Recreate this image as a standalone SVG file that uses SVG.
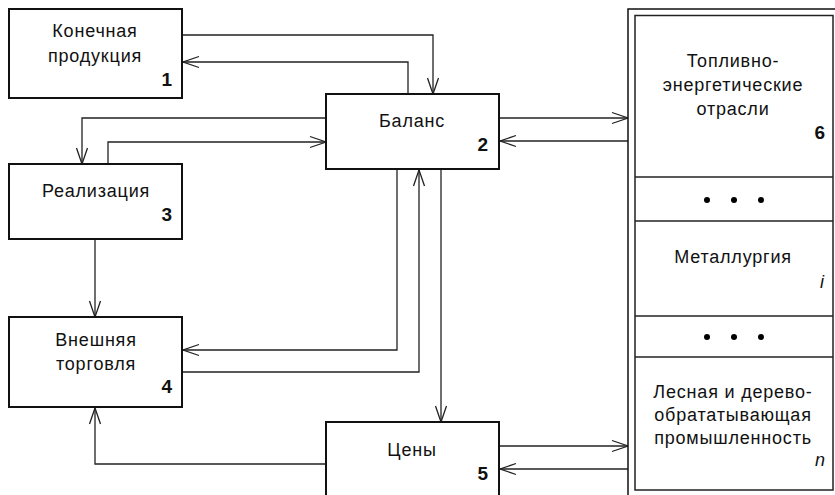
<svg xmlns="http://www.w3.org/2000/svg" width="835" height="495" viewBox="0 0 835 495">
<style>
.box{fill:#fff;stroke:#111;stroke-width:2}
.t{font-family:"Liberation Sans",Arial,sans-serif;font-size:18px;fill:#111;text-anchor:middle;letter-spacing:0.8px}
.n{font-family:"Liberation Sans",Arial,sans-serif;font-size:19px;font-weight:bold;fill:#111;text-anchor:end}
.i{font-family:"Liberation Sans",Arial,sans-serif;font-size:18px;font-style:italic;fill:#111;text-anchor:end}
.c{fill:none;stroke:#222;stroke-width:1.3}
.sep{stroke:#222;stroke-width:1.5}
</style>
<defs>
<marker id="a" viewBox="0 0 16 12" refX="16" refY="6" markerWidth="16" markerHeight="12" orient="auto" markerUnits="userSpaceOnUse" overflow="visible">
<path d="M0,0.5 L16,6 L0,11.5" fill="none" stroke="#222" stroke-width="1.3"/>
</marker>
</defs>
<rect width="835" height="495" fill="#fff"/>
<g id="connectors">
<path class="c" d="M182,35 H433 V94" marker-end="url(#a)"/>
<path class="c" d="M408,94 V62 H183" marker-end="url(#a)"/>
<path class="c" d="M326,118 H82 V164" marker-end="url(#a)"/>
<path class="c" d="M108,164 V142 H326" marker-end="url(#a)"/>
<path class="c" d="M499,118 H628" marker-end="url(#a)"/>
<path class="c" d="M628,141 H500" marker-end="url(#a)"/>
<path class="c" d="M95,239 V317" marker-end="url(#a)"/>
<path class="c" d="M397,169 V350 H183" marker-end="url(#a)"/>
<path class="c" d="M182,372 H419 V170" marker-end="url(#a)"/>
<path class="c" d="M441,169 V422" marker-end="url(#a)"/>
<path class="c" d="M326,464 H95 V408" marker-end="url(#a)"/>
<path class="c" d="M499,446 H628" marker-end="url(#a)"/>
<path class="c" d="M628,469 H500" marker-end="url(#a)"/>
</g>
<g id="node1">
<rect class="box" x="9" y="9" width="173" height="89"/>
<text class="t" x="95" y="37">Конечная</text>
<text class="t" x="95" y="62">продукция</text>
<text class="n" x="172" y="86">1</text>
</g>
<g id="node2">
<rect class="box" x="326" y="94" width="173" height="75"/>
<text class="t" x="412" y="127">Баланс</text>
<text class="n" x="488" y="151">2</text>
</g>
<g id="node3">
<rect class="box" x="9" y="164" width="173" height="75"/>
<text class="t" x="96" y="197">Реализация</text>
<text class="n" x="172" y="221">3</text>
</g>
<g id="node4">
<rect class="box" x="9" y="317" width="173" height="90"/>
<text class="t" x="96" y="346">Внешняя</text>
<text class="t" x="96" y="370">торговля</text>
<text class="n" x="172" y="393">4</text>
</g>
<g id="node5">
<rect class="box" x="326" y="422" width="173" height="80"/>
<text class="t" x="412" y="456">Цены</text>
<text class="n" x="488" y="480">5</text>
</g>
<g id="node6">
<rect x="628" y="9" width="215" height="500" fill="#fff" stroke="#111" stroke-width="1.5"/>
<rect x="635" y="15.5" width="198" height="474.5" fill="#fff" stroke="#222" stroke-width="1.5"/>
<line class="sep" x1="635" y1="177" x2="833" y2="177"/>
<line class="sep" x1="635" y1="221" x2="833" y2="221"/>
<line class="sep" x1="635" y1="316" x2="833" y2="316"/>
<line class="sep" x1="635" y1="357" x2="833" y2="357"/>
<text class="t" x="733" y="67">Топливно-</text>
<text class="t" x="733" y="91">энергетические</text>
<text class="t" x="733" y="115">отрасли</text>
<text class="n" x="825" y="139">6</text>
<circle cx="707" cy="200" r="3"/>
<circle cx="734" cy="200" r="3"/>
<circle cx="761" cy="200" r="3"/>
<text class="t" x="733" y="263">Металлургия</text>
<text class="i" x="824" y="288">i</text>
<circle cx="707" cy="337" r="3"/>
<circle cx="734" cy="337" r="3"/>
<circle cx="761" cy="337" r="3"/>
<text class="t" x="733" y="398">Лесная и дерево-</text>
<text class="t" x="733" y="421">обрататывающая</text>
<text class="t" x="733" y="444">промышленность</text>
<text class="i" x="825" y="466">n</text>
</g>
</svg>
